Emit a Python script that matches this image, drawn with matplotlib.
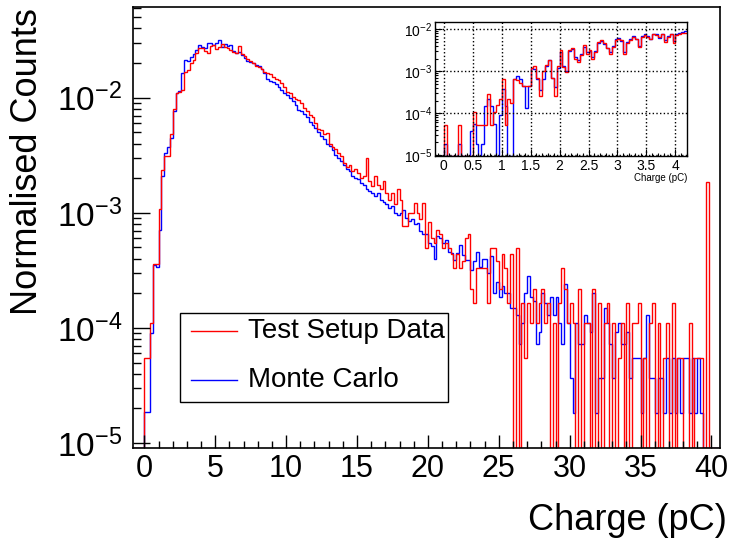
import numpy as np
import matplotlib
matplotlib.use("Agg")
import matplotlib.pyplot as plt
from matplotlib.ticker import LogLocator, MultipleLocator, LogFormatterSciNotation, NullFormatter
from matplotlib.patches import Rectangle
from matplotlib.lines import Line2D

plt.rcParams['font.family'] = ['Liberation Sans', 'DejaVu Sans']

# main histogram: 0.2 pC bins from 0.0 to 39.8 pC
bin_width = 0.2
red_main = [
    5.5e-5, 5.5e-5, 1.1e-4, 3.6e-4, 3.6e-4, 1.08e-3, 2.35e-3, 3.1e-3, 3.1e-3, 4.8e-3,
    8.0e-3, 1.1e-2, 1.13e-2, 1.17e-2, 1.68e-2, 1.74e-2, 2.0e-2, 2.13e-2, 2.43e-2, 2.69e-2,
    2.69e-2, 2.57e-2, 2.46e-2, 2.82e-2, 2.87e-2, 2.64e-2, 2.78e-2, 2.93e-2, 2.74e-2, 2.69e-2,
    2.6e-2, 2.51e-2, 2.43e-2, 2.82e-2, 2.4e-2, 2.31e-2, 2.16e-2, 2.1e-2, 2.0e-2, 1.89e-2,
    1.84e-2, 1.77e-2, 1.68e-2, 1.63e-2, 1.6e-2, 1.52e-2, 1.45e-2, 1.42e-2, 1.35e-2, 1.25e-2,
    1.12e-2, 1.1e-2, 1.02e-2, 9.8e-3, 9.5e-3, 9.0e-3, 8.2e-3, 7.6e-3, 7.1e-3, 6.8e-3,
    6.0e-3, 5.4e-3, 5.2e-3, 4.8e-3, 4.9e-3, 4.0e-3, 3.75e-3, 3.6e-3, 3.3e-3, 3.1e-3,
    2.7e-3, 2.5e-3, 2.6e-3, 2.3e-3, 2.4e-3, 2.2e-3, 2.0e-3, 2.1e-3, 3.0e-3, 1.9e-3,
    1.7e-3, 2.1e-3, 1.75e-3, 1.6e-3, 1.9e-3, 1.5e-3, 1.3e-3, 1.5e-3, 1.2e-3, 1.6e-3,
    1.3e-3, 7.7e-4, 7.7e-4, 9.9e-4, 9.9e-4, 1.21e-3, 9.9e-4, 8.8e-4, 1.21e-3, 4.95e-4,
    8.25e-4, 6.05e-4, 5.5e-4, 7.15e-4, 6.6e-4, 4.95e-4, 5.5e-4, 4.95e-4, 4.4e-4, 3.3e-4,
    4.4e-4, 3.3e-4, 3.85e-4, 6.05e-4, 6.6e-4, 2.2e-4, 1.65e-4, 3.3e-4, 3.3e-4, 3.3e-4,
    3.3e-4, 1.65e-4, 4.95e-4, 4.95e-4, 3.85e-4, 2.2e-4, 4.4e-4, 3.3e-4, 1.65e-4, 4.4e-4,
    0, 4.95e-4, 0, 1.65e-4, 5.5e-5, 1.65e-4, 1.1e-4, 2.2e-4, 1.1e-4, 1.65e-4,
    2.2e-4, 1.1e-4, 1.65e-4, 0, 1.1e-4, 0, 1.65e-4, 3.3e-4, 2.2e-4, 1.1e-4,
    1.65e-4, 1.1e-4, 0, 2.2e-4, 0, 1.1e-4, 1.1e-4, 0, 2.2e-4, 0,
    1.65e-4, 0, 1.1e-4, 1.65e-4, 0, 1.1e-4, 0, 5.5e-5, 1.1e-4, 0,
    1.65e-4, 0, 1.1e-4, 1.1e-4, 1.65e-4, 0, 5.5e-5, 0, 1.1e-4, 1.65e-4,
    0, 1.1e-4, 0, 5.5e-5, 1.1e-4, 0, 1.65e-4, 0, 5.5e-5, 5.5e-5,
    0, 0, 1.1e-4, 0, 5.5e-5, 5.5e-5, 5.5e-5, 0, 1.85e-3,
]
blue_main = [
    1.85e-5, 1.85e-5, 9.1e-5, 3.5e-4, 3.4e-4, 7.1e-4, 2.1e-3, 3.3e-3, 3.7e-3, 4.5e-3,
    7.6e-3, 1.1e-2, 1.15e-2, 1.65e-2, 2.13e-2, 2.1e-2, 2.28e-2, 2.4e-2, 2.6e-2, 2.87e-2,
    2.78e-2, 2.69e-2, 2.97e-2, 3.0e-2, 2.87e-2, 3.0e-2, 3.18e-2, 2.78e-2, 2.93e-2, 2.82e-2,
    2.87e-2, 2.57e-2, 2.43e-2, 2.51e-2, 2.36e-2, 2.2e-2, 2.1e-2, 2.03e-2, 2.0e-2, 1.93e-2,
    1.87e-2, 1.77e-2, 1.65e-2, 1.47e-2, 1.4e-2, 1.38e-2, 1.32e-2, 1.25e-2, 1.18e-2, 1.1e-2,
    1.05e-2, 1.0e-2, 9.3e-3, 8.6e-3, 7.8e-3, 7.7e-3, 7.2e-3, 6.8e-3, 6.2e-3, 5.8e-3,
    5.5e-3, 5.0e-3, 4.7e-3, 4.4e-3, 4.0e-3, 3.8e-3, 3.5e-3, 3.2e-3, 3.0e-3, 2.8e-3,
    2.6e-3, 2.4e-3, 2.3e-3, 2.1e-3, 2.0e-3, 1.95e-3, 1.8e-3, 1.75e-3, 1.6e-3, 1.55e-3,
    1.5e-3, 1.4e-3, 1.5e-3, 1.3e-3, 1.25e-3, 1.2e-3, 1.1e-3, 1.15e-3, 1.0e-3, 9.5e-4,
    1.0e-3, 1.05e-3, 9.0e-4, 8.5e-4, 8.8e-4, 8.0e-4, 8.2e-4, 7.0e-4, 6.5e-4, 6.6e-4,
    5.5e-4, 5.2e-4, 4.0e-4, 6.3e-4, 6.0e-4, 5.5e-4, 5.8e-4, 4.6e-4, 4.5e-4, 3.9e-4,
    4.5e-4, 5.3e-4, 4.3e-4, 3.9e-4, 3.9e-4, 3.2e-4, 3.8e-4, 4.6e-4, 3.4e-4, 4.0e-4,
    4.0e-4, 3.0e-4, 4.2e-4, 2.0e-4, 2.5e-4, 1.85e-4, 2.3e-4, 2.0e-4, 2.0e-4, 1.5e-4,
    1.5e-4, 1.3e-4, 7.3e-5, 1.1e-4, 2.0e-4, 2.8e-4, 1.85e-4, 1.7e-4, 7.3e-5, 9.2e-5,
    2.0e-4, 1.65e-4, 1.3e-4, 1.85e-4, 1.3e-4, 1.85e-4, 1.1e-4, 7.3e-5, 2.4e-4, 1.1e-4,
    3.7e-5, 1.83e-5, 1.1e-4, 7.3e-5, 7.3e-5, 1.3e-4, 1.1e-4, 9.2e-5, 2.0e-4, 1.83e-5,
    3.7e-5, 3.7e-5, 1.5e-4, 1.1e-4, 7.3e-5, 3.7e-5, 9.2e-5, 1.1e-4, 7.3e-5, 7.3e-5,
    9.2e-5, 3.7e-5, 5.5e-5, 5.5e-5, 5.5e-5, 1.83e-5, 5.5e-5, 1.3e-4, 3.7e-5, 3.7e-5,
    1.83e-5, 3.7e-5, 3.7e-5, 1.83e-5, 5.5e-5, 1.83e-5, 5.5e-5, 1.83e-5, 5.5e-5, 1.83e-5,
    5.5e-5, 5.5e-5, 1.83e-5, 5.5e-5, 1.83e-5, 5.5e-5, 1.83e-5, 0, 0,
]

# inset histogram: 0.05 pC bins from 0.0 to 4.2 pC
inset_width = 0.05
red_inset = [
    5.3e-5, 0, 0, 0, 0, 5.3e-5, 0, 0, 0, 0,
    1.06e-4, 5.3e-5, 5.3e-5, 5.3e-5, 5.3e-5, 2.8e-4, 5.3e-5, 1.06e-4, 1.6e-4, 2.2e-4,
    6.6e-4, 5.3e-5, 2.2e-4, 1.7e-4, 6.6e-4, 6.3e-4, 5.3e-4, 4.4e-4, 4.4e-4, 4.4e-4,
    1.2e-3, 1.3e-3, 7.0e-4, 2.6e-4, 1.0e-3, 1.4e-3, 1.9e-3, 7.0e-4, 2.6e-4, 1.3e-3,
    3.16e-3, 1.27e-3, 9.6e-4, 3.2e-3, 3.5e-3, 2.0e-3, 1.66e-3, 2.4e-3, 4.2e-3, 2.6e-3,
    3.16e-3, 2.0e-3, 2.9e-3, 5.0e-3, 5.5e-3, 4.6e-3, 3.5e-3, 2.6e-3, 3.8e-3, 5.5e-3,
    6.0e-3, 5.5e-3, 2.6e-3, 4.6e-3, 5.5e-3, 6.6e-3, 6.0e-3, 3.8e-3, 6.6e-3, 7.2e-3,
    6.6e-3, 6.0e-3, 7.9e-3, 7.2e-3, 6.6e-3, 7.9e-3, 5.0e-3, 6.6e-3, 7.9e-3, 4.6e-3,
    7.2e-3, 7.9e-3, 8.3e-3, 8.3e-3,
]
blue_inset = [
    1.83e-5, 0, 0, 0, 0, 1.83e-5, 0, 0, 0, 3.7e-5,
    5.5e-5, 1.83e-5, 0, 1.83e-5, 1.5e-4, 2.2e-4, 1.5e-4, 5.5e-5, 0, 9.0e-5,
    3.7e-4, 1.5e-4, 0, 0, 6.6e-4, 7.5e-4, 6.6e-4, 4.4e-4, 1.3e-4, 4.5e-4,
    1.2e-3, 1.1e-3, 6.6e-4, 3.5e-4, 6.6e-4, 1.3e-3, 1.8e-3, 7.0e-4, 4.2e-4, 1.2e-3,
    2.9e-3, 1.3e-3, 1.0e-3, 3.0e-3, 3.3e-3, 2.2e-3, 1.8e-3, 2.6e-3, 3.8e-3, 2.9e-3,
    3.0e-3, 2.2e-3, 3.0e-3, 4.8e-3, 5.2e-3, 4.4e-3, 3.6e-3, 2.8e-3, 4.0e-3, 5.8e-3,
    6.3e-3, 5.2e-3, 2.9e-3, 5.0e-3, 5.8e-3, 6.8e-3, 5.8e-3, 4.0e-3, 7.0e-3, 7.9e-3,
    6.8e-3, 5.8e-3, 7.6e-3, 7.6e-3, 6.3e-3, 7.6e-3, 5.5e-3, 6.9e-3, 7.9e-3, 5.2e-3,
    7.6e-3, 8.3e-3, 8.6e-3, 9.0e-3,
]

RED = '#ff0000'
BLUE = '#0000ff'

fig = plt.figure(figsize=(7.29, 5.44), dpi=100)
ax = fig.add_axes([133/729, 1-448/544, 587/729, 441/544])

y_lo, y_hi = 9.05e-6, 6.15e-2
edges = np.arange(-0.8, 40.6 + 1e-9, bin_width)
pad_lo = np.zeros(4)
pad_hi = np.zeros(len(edges) - 1 - 4 - len(red_main))
r = np.concatenate([pad_lo, red_main, pad_hi])
b = np.concatenate([pad_lo, blue_main, pad_hi])
ax.stairs(np.where(b > 0, b, y_lo), edges, baseline=None, color=BLUE, lw=1.0)
ax.stairs(np.where(r > 0, r, y_lo), edges, baseline=None, color=RED, lw=1.0)

ax.set_yscale('log')
ax.set_xlim(-0.8, 40.6)
ax.set_ylim(y_lo, y_hi)
ax.xaxis.set_major_locator(MultipleLocator(5))
ax.xaxis.set_minor_locator(MultipleLocator(1))
ax.yaxis.set_major_locator(LogLocator(base=10, numticks=10))
ax.yaxis.set_minor_locator(LogLocator(base=10, subs=np.arange(2, 10), numticks=20))
ax.yaxis.set_major_formatter(LogFormatterSciNotation())
ax.yaxis.set_minor_formatter(NullFormatter())
ax.tick_params(which='both', direction='in', top=False, right=False, width=1.0)
ax.tick_params(axis='x', which='major', length=9.5, pad=4, labelsize=22)
ax.tick_params(axis='x', which='minor', length=5)
ax.tick_params(axis='y', which='major', length=12.5, pad=8, labelsize=24)
ax.tick_params(axis='y', which='minor', length=6)
for s in ax.spines.values():
    s.set_linewidth(1.2)

fig.text(28/729, 1-162/544, 'Normalised Counts', rotation=90, ha='center', va='center', fontsize=26)
fig.text(727/729, 1-520/544, 'Charge (pC)', ha='right', va='center', fontsize=26)

# legend box
fig.patches.append(Rectangle((180/729, 1-402/544), 268/729, 89/544, transform=fig.transFigure,
                             facecolor='white', edgecolor='black', lw=1.0))
fig.lines.append(Line2D([191/729, 237/729], [1-331/544, 1-331/544], transform=fig.transFigure, color=RED, lw=1.0))
fig.lines.append(Line2D([191/729, 237/729], [1-380/544, 1-380/544], transform=fig.transFigure, color=BLUE, lw=1.0))
fig.text(248/729, 1-331/544, 'Test Setup Data', ha='left', va='center', fontsize=20)
fig.text(248/729, 1-380/544, 'Monte Carlo', ha='left', va='center', fontsize=20)

# inset
ins = fig.add_axes([435/729, 1-156/544, 252/729, 134/544])
i_lo, i_hi = 9.5e-6, 1.49e-2
iedges = np.arange(-0.15, 4.2 + 1e-9, inset_width)
ipad_lo = np.zeros(3)
ri = np.concatenate([ipad_lo, red_inset])
bi = np.concatenate([ipad_lo, blue_inset])
ins.stairs(np.where(bi > 0, bi, i_lo), iedges, baseline=None, color=BLUE, lw=1.0)
ins.stairs(np.where(ri > 0, ri, i_lo), iedges, baseline=None, color=RED, lw=1.0)
ins.set_yscale('log')
ins.set_xlim(-0.15, 4.2)
ins.set_ylim(i_lo, i_hi)
ins.xaxis.set_major_locator(MultipleLocator(0.5))
ins.xaxis.set_minor_locator(MultipleLocator(0.1))
ins.yaxis.set_major_locator(LogLocator(base=10, numticks=10))
ins.yaxis.set_minor_locator(LogLocator(base=10, subs=np.arange(2, 10), numticks=20))
ins.yaxis.set_major_formatter(LogFormatterSciNotation())
ins.yaxis.set_minor_formatter(NullFormatter())
ins.xaxis.set_major_formatter(lambda v, p: ('%g' % v))
ins.grid(True, which='major', color='black', linestyle=':', lw=1.0)
ins.tick_params(which='both', direction='in', top=False, right=False, labelsize=10, width=0.8)
ins.tick_params(which='major', length=5, pad=2)
ins.tick_params(which='minor', length=2.5)
for s in ins.spines.values():
    s.set_linewidth(1.0)
fig.text(687/729, 1-178/544, 'Charge (pC)', ha='right', va='center', fontsize=7)

fig.savefig('out.png', dpi=100)
